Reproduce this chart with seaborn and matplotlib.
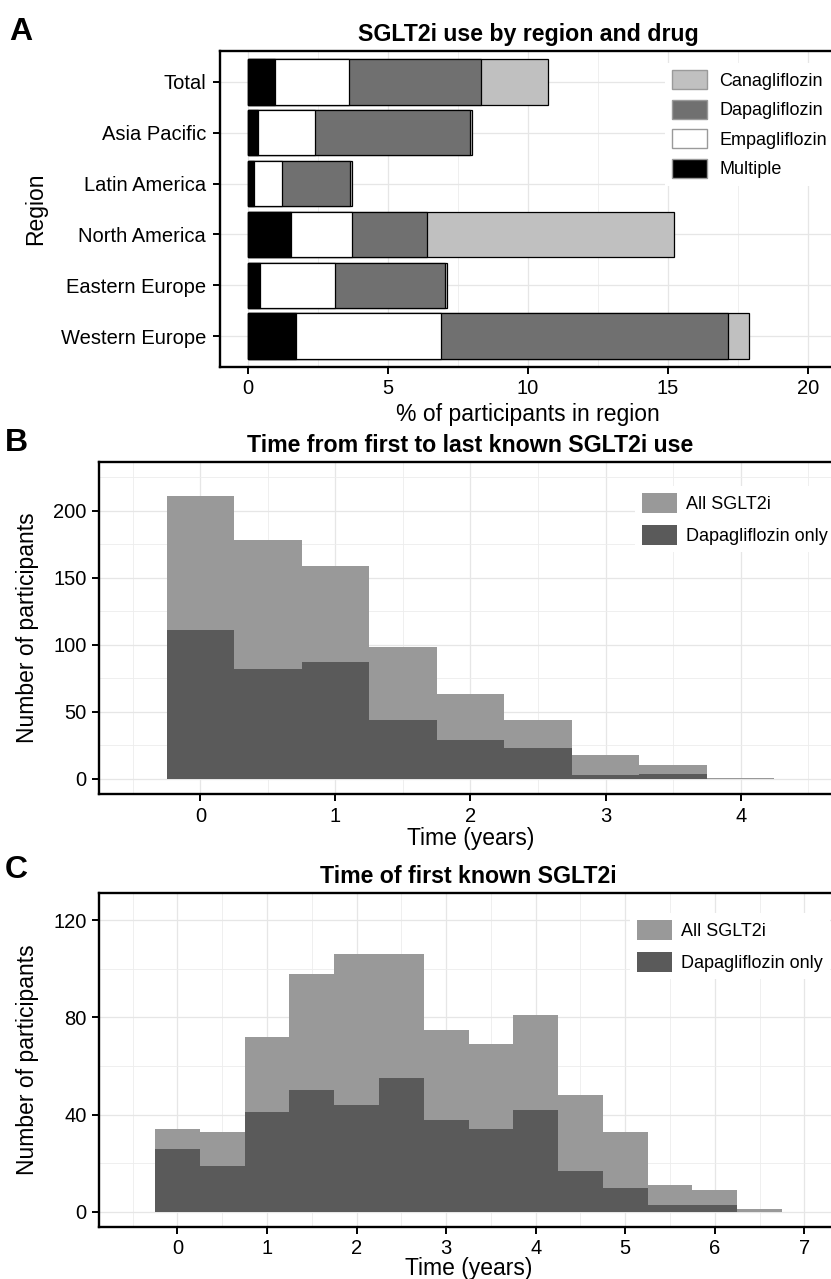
import numpy as np
import pandas as pd
import matplotlib
matplotlib.use("Agg")
import seaborn as sns
from matplotlib import pyplot as plt
from matplotlib.patches import Patch
from matplotlib.ticker import MultipleLocator

# Panel A: % of participants per region, split by drug
regions = ["Total", "Asia Pacific", "Latin America", "North America",
           "Eastern Europe", "Western Europe"]
multiple = [0.95, 0.34, 0.23, 1.53, 0.44, 1.72]
empagliflozin = [2.66, 2.06, 0.98, 2.18, 2.68, 5.19]
dapagliflozin = [4.70, 5.53, 2.42, 2.70, 3.92, 10.23]
canagliflozin = [2.40, 0.07, 0.08, 8.80, 0.07, 0.76]

# Panel B: time from first to last known use (bin centres, counts)
dur_time = [0, 0.5, 1, 1.5, 2, 2.5, 3, 3.5, 4]
dur_all = [211, 178, 159, 98, 63, 44, 18, 10, 1]
dur_dapa = [111, 82, 87, 44, 29, 23, 3, 4, 0]

# Panel C: time of first known use
first_time = [0, 0.5, 1, 1.5, 2, 2.5, 3, 3.5, 4, 4.5, 5, 5.5, 6, 6.5]
first_all = [34, 33, 72, 98, 106, 106, 75, 69, 81, 48, 33, 11, 9, 1]
first_dapa = [26, 19, 41, 50, 44, 55, 38, 34, 42, 17, 10, 3, 3, 0]

sns.set_style("white")
plt.rcParams['font.family'] = ['Liberation Sans', 'DejaVu Sans']
plt.rcParams['text.color'] = 'black'
plt.rcParams['axes.labelcolor'] = 'black'
plt.rcParams['xtick.color'] = 'black'
plt.rcParams['ytick.color'] = 'black'

W, H = 831, 1279
fig = plt.figure(figsize=(W / 100, H / 100), dpi=100)

def box(l, t, r, b):
    return [l / W, 1 - b / H, (r - l) / W, (b - t) / H]

axA = fig.add_axes(box(220, 51, 836, 367))
axB = fig.add_axes(box(99, 462, 842, 794))
axC = fig.add_axes(box(99, 893, 838, 1227))

TICK = 14.5
LAB = 16.5
TITLE = 16.7
LEG = 13

def style(ax):
    for s in ax.spines.values():
        s.set_visible(True)
        s.set_color("black")
        s.set_linewidth(1.7)
    ax.tick_params(which="major", bottom=True, left=True, direction="out",
                   length=5, width=1.4, labelsize=TICK, color="black", pad=4)
    ax.tick_params(which="minor", bottom=False, left=False, length=0)
    ax.set_axisbelow(True)
    ax.grid(which="major", color="#e6e6e6", linewidth=0.9)
    ax.grid(which="minor", color="#ededed", linewidth=0.6)

# ---- Panel A ----
df = pd.DataFrame({"region": regions, "Multiple": multiple,
                   "Empagliflozin": empagliflozin,
                   "Dapagliflozin": dapagliflozin,
                   "Canagliflozin": canagliflozin})
df["c_mult"] = df["Multiple"]
df["c_empa"] = df["c_mult"] + df["Empagliflozin"]
df["c_dapa"] = df["c_empa"] + df["Dapagliflozin"]
df["c_cana"] = df["c_dapa"] + df["Canagliflozin"]

drug_cols = {"Canagliflozin": "#c0c0c0", "Dapagliflozin": "#707070",
             "Empagliflozin": "#ffffff", "Multiple": "#000000"}
for cum, name in [("c_cana", "Canagliflozin"), ("c_dapa", "Dapagliflozin"),
                  ("c_empa", "Empagliflozin"), ("c_mult", "Multiple")]:
    sns.barplot(data=df, y="region", x=cum, orient="h", color=drug_cols[name],
                saturation=1, edgecolor="black", linewidth=0.9, width=0.9,
                errorbar=None, ax=axA)

axA.set_xlim(-1, 21)
axA.set_ylim(5.6, -0.6)
axA.xaxis.set_major_locator(MultipleLocator(5))
axA.xaxis.set_minor_locator(MultipleLocator(2.5))
style(axA)
axA.tick_params(axis="y", pad=5)
axA.set_xlabel("% of participants in region", fontsize=LAB, labelpad=3)
axA.set_ylabel("Region", fontsize=LAB, labelpad=10)
axA.set_title("SGLT2i use by region and drug", fontsize=TITLE,
              fontweight="bold", pad=7)
handles = [Patch(facecolor=drug_cols[n], edgecolor="#9a9a9a", linewidth=1, label=n)
           for n in ["Canagliflozin", "Dapagliflozin", "Empagliflozin", "Multiple"]]
axA.legend(handles=handles, loc="upper left",
           bbox_to_anchor=(665 / W, 1 - 63 / H), bbox_transform=fig.transFigure,
           frameon=True, fancybox=False, edgecolor="none", facecolor="white",
           framealpha=1, fontsize=LEG, handlelength=1.9, handleheight=1.25,
           handletextpad=0.7, labelspacing=0.55, borderpad=0.4, borderaxespad=0)

# ---- Panels B and C ----
ALL_COL = "#999999"
DAPA_COL = "#5a5a5a"

def hist_panel(ax, t, n_all, n_dapa, rng):
    sns.histplot(x=t, weights=n_all, binwidth=0.5, binrange=rng,
                 element="step", fill=True, color=ALL_COL, alpha=1,
                 linewidth=0, ax=ax)
    sns.histplot(x=t, weights=n_dapa, binwidth=0.5, binrange=rng,
                 element="step", fill=True, color=DAPA_COL, alpha=1,
                 linewidth=0, ax=ax)
    ax.xaxis.set_major_locator(MultipleLocator(1))
    ax.xaxis.set_minor_locator(MultipleLocator(0.5))
    style(ax)
    ax.set_ylabel("Number of participants", fontsize=LAB, labelpad=10)

hist_panel(axB, dur_time, dur_all, dur_dapa, (-0.25, 4.25))
axB.set_xlim(-0.75, 4.75)
axB.set_ylim(-11.25, 236.25)
axB.yaxis.set_major_locator(MultipleLocator(50))
axB.yaxis.set_minor_locator(MultipleLocator(25))
axB.set_xlabel("Time (years)", fontsize=LAB, labelpad=1)
axB.set_title("Time from first to last known SGLT2i use", fontsize=TITLE,
              fontweight="bold", pad=7)

hist_panel(axC, first_time, first_all, first_dapa, (-0.25, 6.75))
axC.set_xlim(-0.875, 7.375)
axC.set_ylim(-6.25, 131.25)
axC.yaxis.set_major_locator(MultipleLocator(40))
axC.yaxis.set_minor_locator(MultipleLocator(20))
axC.set_xlabel("Time (years)", fontsize=LAB, labelpad=-1)
axC.set_title("Time of first known SGLT2i", fontsize=TITLE,
              fontweight="bold", pad=7)

hist_handles = [Patch(facecolor=ALL_COL, edgecolor="none", label="All SGLT2i"),
                Patch(facecolor=DAPA_COL, edgecolor="none", label="Dapagliflozin only")]
for ax, lx, ty in [(axB, 635, 486), (axC, 630, 913)]:
    ax.legend(handles=hist_handles, loc="upper left",
              bbox_to_anchor=(lx / W, 1 - ty / H), bbox_transform=fig.transFigure,
              frameon=True, fancybox=False, edgecolor="none", facecolor="white",
              framealpha=1, fontsize=LEG, handlelength=1.9, handleheight=1.3,
              handletextpad=0.55, labelspacing=0.65, borderpad=0.4, borderaxespad=0)

# panel letters
for letter, x, y in [("A", 21, 32), ("B", 16, 443), ("C", 16, 870)]:
    fig.text(x / W, 1 - y / H, letter, fontsize=23, fontweight="bold",
             ha="center", va="center")

fig.savefig("out.png", dpi=100)
